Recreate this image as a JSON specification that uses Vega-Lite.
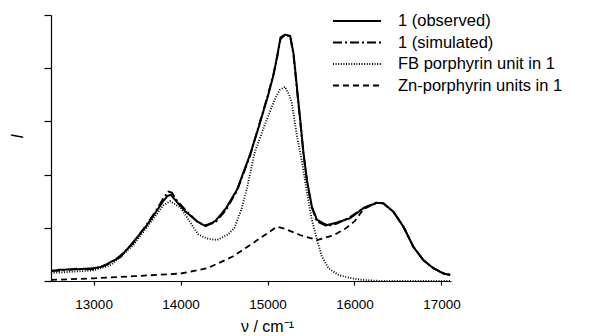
{
  "$schema": "https://vega.github.io/schema/vega-lite/v6.json",
  "width": 400,
  "height": 266,
  "autosize": {"type": "none"},
  "padding": {"left": 51, "top": 15, "right": 141, "bottom": 55},
  "background": "white",
  "config": {
    "view": {"stroke": null},
    "font": "Liberation Sans",
    "axis": {"domainColor": "black", "tickColor": "black", "labelColor": "black", "titleColor": "black", "grid": false, "domainWidth": 1.2, "tickWidth": 1.2}
  },
  "datasets": {
    "obs": [
      {"nu": 12510, "I": 0.18}, {"nu": 12600, "I": 0.21}, {"nu": 12800, "I": 0.22}, {"nu": 13000, "I": 0.24},
      {"nu": 13100, "I": 0.27}, {"nu": 13200, "I": 0.36}, {"nu": 13310, "I": 0.45}, {"nu": 13460, "I": 0.74},
      {"nu": 13600, "I": 1.02}, {"nu": 13710, "I": 1.28}, {"nu": 13800, "I": 1.5}, {"nu": 13850, "I": 1.6}, {"nu": 13890, "I": 1.62},
      {"nu": 13950, "I": 1.5}, {"nu": 14060, "I": 1.3}, {"nu": 14200, "I": 1.11}, {"nu": 14290, "I": 1.03},
      {"nu": 14400, "I": 1.13}, {"nu": 14520, "I": 1.36}, {"nu": 14650, "I": 1.72}, {"nu": 14800, "I": 2.38},
      {"nu": 14900, "I": 2.9}, {"nu": 15000, "I": 3.45}, {"nu": 15070, "I": 3.88}, {"nu": 15110, "I": 4.22},
      {"nu": 15150, "I": 4.58}, {"nu": 15200, "I": 4.63}, {"nu": 15260, "I": 4.61}, {"nu": 15299, "I": 4.28},
      {"nu": 15338, "I": 3.65}, {"nu": 15376, "I": 3.03}, {"nu": 15414, "I": 2.4}, {"nu": 15453, "I": 1.9},
      {"nu": 15510, "I": 1.4}, {"nu": 15568, "I": 1.15}, {"nu": 15683, "I": 1.05}, {"nu": 15798, "I": 1.1},
      {"nu": 15950, "I": 1.18}, {"nu": 16103, "I": 1.37}, {"nu": 16257, "I": 1.47}, {"nu": 16333, "I": 1.46},
      {"nu": 16448, "I": 1.3}, {"nu": 16563, "I": 1.02}, {"nu": 16678, "I": 0.64}, {"nu": 16793, "I": 0.39},
      {"nu": 16908, "I": 0.24}, {"nu": 17023, "I": 0.14}, {"nu": 17100, "I": 0.11}
    ],
    "sim": [
      {"nu": 12510, "I": 0.2}, {"nu": 12600, "I": 0.19}, {"nu": 12800, "I": 0.23}, {"nu": 13000, "I": 0.22},
      {"nu": 13100, "I": 0.28}, {"nu": 13200, "I": 0.34}, {"nu": 13310, "I": 0.48}, {"nu": 13460, "I": 0.72},
      {"nu": 13600, "I": 1.04}, {"nu": 13710, "I": 1.3}, {"nu": 13800, "I": 1.55}, {"nu": 13860, "I": 1.68}, {"nu": 13900, "I": 1.66},
      {"nu": 13950, "I": 1.53}, {"nu": 14060, "I": 1.33}, {"nu": 14200, "I": 1.1}, {"nu": 14290, "I": 1.05},
      {"nu": 14400, "I": 1.1}, {"nu": 14520, "I": 1.33}, {"nu": 14650, "I": 1.7}, {"nu": 14800, "I": 2.36},
      {"nu": 14900, "I": 2.92}, {"nu": 15000, "I": 3.47}, {"nu": 15070, "I": 3.9}, {"nu": 15110, "I": 4.2},
      {"nu": 15150, "I": 4.55}, {"nu": 15200, "I": 4.62}, {"nu": 15260, "I": 4.6}, {"nu": 15299, "I": 4.25},
      {"nu": 15338, "I": 3.6}, {"nu": 15376, "I": 3.0}, {"nu": 15414, "I": 2.38}, {"nu": 15453, "I": 1.88},
      {"nu": 15510, "I": 1.38}, {"nu": 15568, "I": 1.12}, {"nu": 15683, "I": 1.03}, {"nu": 15798, "I": 1.08},
      {"nu": 15950, "I": 1.2}, {"nu": 16103, "I": 1.37}, {"nu": 16257, "I": 1.48}, {"nu": 16333, "I": 1.46},
      {"nu": 16448, "I": 1.3}, {"nu": 16563, "I": 1.02}, {"nu": 16678, "I": 0.64}, {"nu": 16793, "I": 0.39},
      {"nu": 16908, "I": 0.24}, {"nu": 17023, "I": 0.15}, {"nu": 17100, "I": 0.12}
    ],
    "fb": [
      {"nu": 12510, "I": 0.15}, {"nu": 12800, "I": 0.18}, {"nu": 13000, "I": 0.2}, {"nu": 13200, "I": 0.3},
      {"nu": 13460, "I": 0.68}, {"nu": 13600, "I": 0.98}, {"nu": 13800, "I": 1.42}, {"nu": 13880, "I": 1.5},
      {"nu": 14000, "I": 1.38}, {"nu": 14200, "I": 0.88}, {"nu": 14300, "I": 0.8}, {"nu": 14420, "I": 0.77},
      {"nu": 14550, "I": 0.88}, {"nu": 14620, "I": 1.0}, {"nu": 14700, "I": 1.35}, {"nu": 14760, "I": 1.72},
      {"nu": 14850, "I": 2.4}, {"nu": 14960, "I": 2.9}, {"nu": 15080, "I": 3.4}, {"nu": 15140, "I": 3.59},
      {"nu": 15200, "I": 3.65}, {"nu": 15250, "I": 3.5}, {"nu": 15280, "I": 3.34}, {"nu": 15340, "I": 2.71},
      {"nu": 15400, "I": 2.21}, {"nu": 15455, "I": 1.65}, {"nu": 15510, "I": 1.15}, {"nu": 15570, "I": 0.77},
      {"nu": 15625, "I": 0.46}, {"nu": 15700, "I": 0.24}, {"nu": 15820, "I": 0.11}, {"nu": 15970, "I": 0.05},
      {"nu": 16100, "I": 0.02}, {"nu": 16300, "I": 0.0}, {"nu": 17100, "I": 0.0}
    ],
    "zn": [
      {"nu": 12510, "I": 0.02}, {"nu": 13000, "I": 0.05}, {"nu": 13460, "I": 0.09}, {"nu": 14000, "I": 0.14},
      {"nu": 14310, "I": 0.24}, {"nu": 14600, "I": 0.46}, {"nu": 14830, "I": 0.71}, {"nu": 15000, "I": 0.9},
      {"nu": 15107, "I": 1.02}, {"nu": 15200, "I": 0.98}, {"nu": 15380, "I": 0.86}, {"nu": 15570, "I": 0.77},
      {"nu": 15760, "I": 0.86}, {"nu": 15900, "I": 0.99}, {"nu": 16000, "I": 1.12}, {"nu": 16103, "I": 1.35},
      {"nu": 16257, "I": 1.47}, {"nu": 16333, "I": 1.46}, {"nu": 16448, "I": 1.3}, {"nu": 16563, "I": 1.02},
      {"nu": 16678, "I": 0.64}, {"nu": 16793, "I": 0.39}, {"nu": 16908, "I": 0.24}, {"nu": 17023, "I": 0.14},
      {"nu": 17100, "I": 0.11}
    ]
  },
  "data": {"name": "obs"},
  "transform": [
    {"calculate": "'1 (observed)'", "as": "series"}
  ],
  "layer": [
    {
      "data": {"name": "zn"},
      "transform": [{"calculate": "'Zn-porphyrin units in 1'", "as": "series"}],
      "mark": {"type": "line", "color": "black", "clip": true}
    },
    {
      "data": {"name": "fb"},
      "transform": [{"calculate": "'FB porphyrin unit in 1'", "as": "series"}],
      "mark": {"type": "line", "color": "black", "clip": true}
    },
    {
      "data": {"name": "sim"},
      "transform": [{"calculate": "'1 (simulated)'", "as": "series"}],
      "mark": {"type": "line", "color": "black", "clip": true}
    },
    {
      "mark": {"type": "line", "color": "black", "clip": true}
    }
  ],
  "encoding": {
    "x": {
      "field": "nu", "type": "quantitative",
      "scale": {"domain": [12510, 17110], "nice": false, "zero": false},
      "axis": {"values": [13000, 14000, 15000, 16000, 17000], "format": "d", "tickSize": 4, "labelFontSize": 13.5, "labelPadding": 12, "title": "ν / cm⁻¹", "titleFontSize": 16, "titleFontWeight": "normal", "titleX": 216, "titleY": 50, "titleBaseline": "alphabetic"}
    },
    "y": {
      "field": "I", "type": "quantitative",
      "scale": {"domain": [0, 5], "nice": false},
      "axis": {"values": [0, 1, 2, 3, 4, 5], "labels": false, "tickSize": 7, "title": "I", "titleFontStyle": "italic", "titleFontWeight": "normal", "titleFontSize": 17, "titleX": -34, "titleY": 121, "titleAlign": "center", "titleBaseline": "middle"}
    },
    "strokeDash": {
      "field": "series", "type": "nominal",
      "scale": {"domain": ["1 (observed)", "1 (simulated)", "FB porphyrin unit in 1", "Zn-porphyrin units in 1"], "range": [[1, 0], [9, 3, 2, 3], [1, 1.6], [6, 4]]},
      "legend": {"orient": "none", "legendX": 297, "legendY": -3, "title": null, "symbolType": "M-3,0H3", "symbolSize": 256, "symbolStrokeColor": "black", "labelFontSize": 16.5, "labelColor": "black", "labelOffset": 32, "labelLimit": 400, "rowPadding": 3.5, "padding": 0, "symbolStrokeWidth": 1.5}
    },
    "strokeWidth": {
      "field": "series", "type": "nominal",
      "scale": {"domain": ["1 (observed)", "1 (simulated)", "FB porphyrin unit in 1", "Zn-porphyrin units in 1"], "range": [2, 1.8, 1, 1.2]},
      "legend": null
    }
  }
}
